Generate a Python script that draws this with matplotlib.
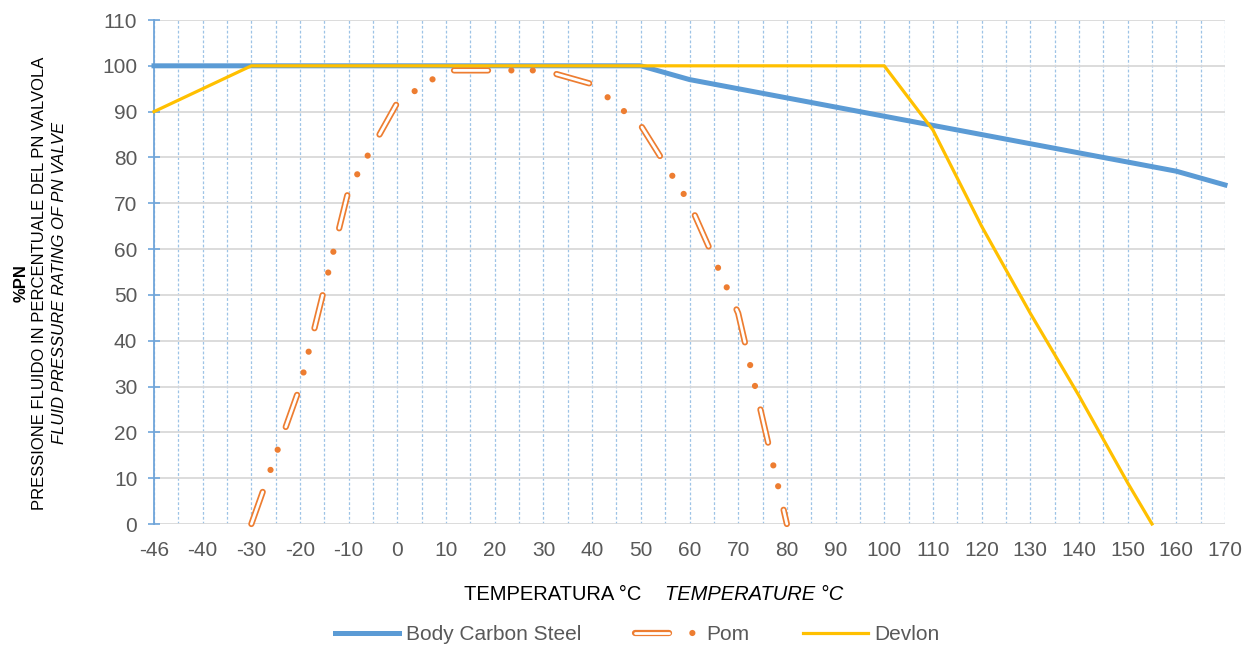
import numpy as np
import matplotlib.pyplot as plt
from matplotlib.lines import Line2D

plt.rcParams['font.family'] = ['Liberation Sans', 'DejaVu Sans']
plt.rcParams['lines.scale_dashes'] = False   # dash lengths in points

# ---- data ----
label_temps = [-46, -40, -30, -20, -10, 0, 10, 20, 30, 40, 50, 60, 70, 80,
               90, 100, 110, 120, 130, 140, 150, 160, 170]
y_ticks = list(range(0, 111, 10))

steel_t = [-46, -40, -30, -20, -10, 0, 10, 20, 30, 40, 50, 60, 70, 80,
           90, 100, 110, 120, 130, 140, 150, 160, 170]
steel_v = [100, 100, 100, 100, 100, 100, 100, 100, 100, 100, 100, 97, 95, 93,
           91, 89, 87, 85, 83, 81, 79, 77, 74]

pom_t = [-30, -20, -10, 0, 10, 20, 30, 40, 50, 60, 70, 80]
pom_v = [0, 30, 73, 92, 99, 99, 99, 96, 87, 70, 46, 0]

devlon_t = [-46, -30, -20, -10, 0, 10, 20, 30, 40, 50, 60, 70, 80, 90, 100,
            110, 120, 130, 140, 150, 155]
devlon_v = [90, 100, 100, 100, 100, 100, 100, 100, 100, 100, 100, 100, 100,
            100, 100, 86, 65, 46, 28, 9, 0]

c_steel = '#5B9BD5'
c_pom = '#ED7D31'
c_devlon = '#FFC000'

# category axis: labels equally spaced (-46 -> 0, -40 -> 1, ...)
label_pos = np.arange(len(label_temps))


def to_pos(t):
    return np.interp(t, label_temps, label_pos)


fig = plt.figure(figsize=(12.58, 6.49), dpi=100)
ax = fig.add_axes([154 / 1258, 1 - 524 / 649, 1071 / 1258, 504 / 649])

ax.plot(to_pos(steel_t), steel_v, color=c_steel, lw=3.6, solid_joinstyle='round',
        clip_on=False, zorder=3)

# Pom: hollow dash + two dots pattern
pom_dash = (0, (24.5, 16.8, 0.01, 15.4, 0.01, 17.4))
pom_line, = ax.plot(to_pos(pom_t), pom_v, color=c_pom, lw=4.5, linestyle=pom_dash,
                    dash_capstyle='round', dash_joinstyle='round', clip_on=False, zorder=4)
pom_in, = ax.plot(to_pos(pom_t), pom_v, color='white', lw=2.0,
                  linestyle=(0, (24.5, 49.62)), dash_capstyle='round',
                  dash_joinstyle='round', clip_on=False, zorder=5)

ax.plot(to_pos(devlon_t), devlon_v, color=c_devlon, lw=2.3, solid_joinstyle='round',
        clip_on=False, zorder=6)

ax.set_xlim(0, len(label_temps) - 1)
ax.set_ylim(0, 110)
ax.set_xticks(label_pos)
ax.set_xticklabels([str(t) for t in label_temps])
ax.set_xticks(np.arange(0.5, len(label_temps) - 1, 1), minor=True)
ax.set_yticks(y_ticks)

ax.grid(axis='x', which='both', color='#9DC3E6', lw=0.9, linestyle=(0, (2, 1.5)))
ax.grid(axis='y', which='major', color='#D9D9D9', lw=1.3)
ax.set_axisbelow(True)

for s in ['top', 'right', 'bottom']:
    ax.spines[s].set_visible(False)
ax.spines['left'].set_color('#6FA5DA')
ax.spines['left'].set_linewidth(1.3)

ax.tick_params(axis='x', which='both', length=0, pad=12.5, labelsize=15, labelcolor='#595959')
ax.tick_params(axis='y', direction='inout', length=8, width=1.2, color='#6FA5DA',
               pad=8, labelsize=15, labelcolor='#595959')

# y label, three lines with different styles
yc = 1 - 283 / 649
fig.text(21.5 / 1258, yc, '%PN', rotation=90, ha='center', va='center',
         fontsize=12, fontweight='bold')
fig.text(40 / 1258, yc, 'PRESSIONE FLUIDO IN PERCENTUALE DEL PN VALVOLA', rotation=90,
         ha='center', va='center', fontsize=12)
fig.text(60 / 1258, yc, 'FLUID PRESSURE RATING OF PN VALVE', rotation=90,
         ha='center', va='center', fontsize=12, style='italic')

# x label
xl_y = 1 - 595 / 649
fig.text(552.5 / 1258, xl_y, 'TEMPERATURA °C', ha='center', va='center', fontsize=14.5)
fig.text(754 / 1258, xl_y, 'TEMPERATURE °C', ha='center', va='center', fontsize=14.5,
         style='italic')

h_steel = Line2D([], [], color=c_steel, lw=3.6)
h_dev = Line2D([], [], color=c_devlon, lw=2.3)
fig.legend([h_steel, (pom_line, pom_in), h_dev], ['Body Carbon Steel', 'Pom', 'Devlon'],
           loc='center', bbox_to_anchor=(637 / 1258, 1 - 635 / 649), ncol=3,
           frameon=False, fontsize=15, handlelength=3.1, handletextpad=0.3,
           columnspacing=2.6, labelcolor='#595959')

fig.savefig('out.png', dpi=100)
